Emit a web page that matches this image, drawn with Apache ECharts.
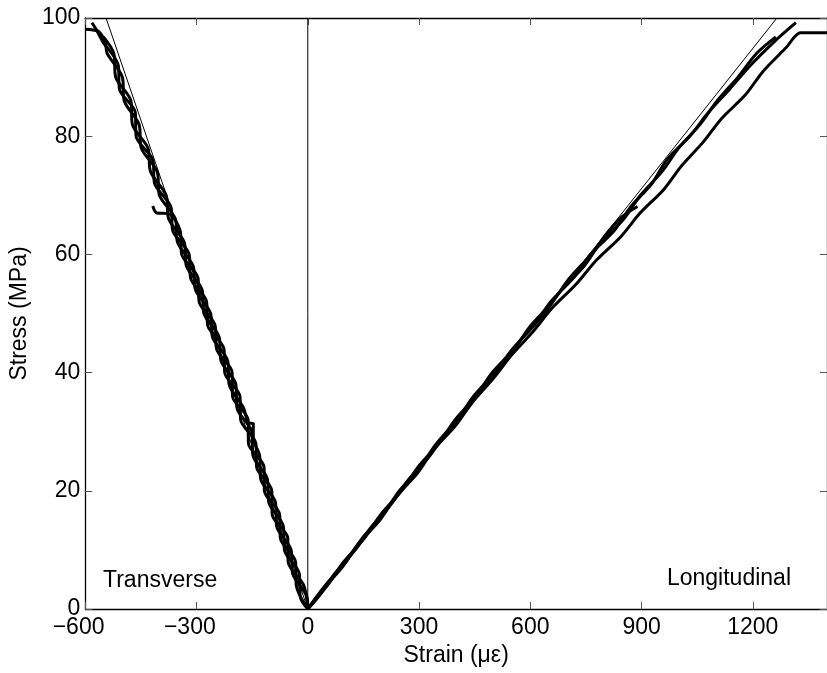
<!DOCTYPE html>
<html>
<head>
<meta charset="utf-8">
<script src="https://cdn.jsdelivr.net/npm/echarts@6/dist/echarts.min.js"></script>
<style>html,body{margin:0;padding:0;background:#fff}#c{width:827px;height:673px}</style>
</head>
<body>
<div id="c"></div>
<script>
// ---- data (strain in microstrain, stress in MPa) ----
const xTicks = [-600, -300, 0, 300, 600, 900, 1200];
const yTicks = [0, 20, 40, 60, 80, 100];
const transverse1 = [[0,0],[-31,4],[-33,8],[-74,12],[-76,16],[-117,20],[-118,24],[-160,28],[-161,32],[-203,36],[-204,40],[-246,44],[-250,48],[-293,52],[-296,56],[-340,60],[-344,64],[-376,66.9],[-407,67.0],[-418,68.2]];
const transverse2 = [[0,0],[-2,2],[-41,6],[-45,10],[-84,14],[-87,18],[-127,22],[-130,26],[-147,28.9],[-147,31.4],[-160,31.5],[-173,34],[-212,38],[-216,42],[-257,46],[-262,50],[-303,54],[-309,58],[-351,62],[-357,66],[-400,70],[-406,74],[-449,78],[-455,82],[-495,86],[-500,90],[-541,94],[-546,96],[-557,97.2],[-566,97.8],[-600,98.1]];
const transverse3 = [[0,0],[-11,4],[-53,8],[-54,12],[-96,16],[-97,20],[-138,24],[-140,28],[-181,32],[-183,36],[-224,40],[-226,44],[-270,48],[-273,52],[-316,56],[-320,60],[-364,64],[-369,68],[-413,72],[-418,76],[-463,80],[-465,84],[-508,88],[-511,92],[-553,96],[-570,98],[-582,99.2]];
const transverse4 = [[0,0],[-20,2],[-23,6],[-63,10],[-66,14],[-105,18],[-109,22],[-148,26],[-151,30],[-191,34],[-194,38],[-234,42],[-239,46],[-280,50],[-285,54],[-327,58],[-333,62],[-375,66],[-382,70],[-424,74],[-431,78],[-473,82],[-477,86],[-518,90],[-523,94],[-551,96.8]];
const longitudinal1 = [[0,0],[53,4],[97,8],[153,12],[197,16],[253,20],[297,24],[353,28],[397,32],[453,36],[497,40],[556,44],[602,48],[660,52],[706,56],[764,60],[812,64],[850,66.5],[889,68.1]];
const longitudinal2 = [[0,0],[47,4],[103,8],[147,12],[203,16],[247,20],[303,24],[347,28],[403,32],[447,36],[505,40],[552,44],[610,48],[655,52],[716,56],[762,60],[826,64],[870,68],[928,72],[968,76],[1030,80],[1080,84],[1138,88],[1194,92],[1258,96],[1316,99.2]];
const longitudinal3 = [[0,0],[28,2],[73,6],[128,10],[173,14],[228,18],[273,22],[330,26],[375,30],[432,34],[478,38],[535,42],[580,46],[638,50],[684,54],[745,58],[790,62],[852,66],[897,70],[955,74],[1000,78],[1058,82],[1104,86],[1160,90],[1210,94],[1262,96.8]];
const longitudinal4 = [[0,0],[36,3],[92,7],[136,11],[194,15],[238,19],[296,23],[340,27],[398,31],[444,35],[500,39],[550,43],[608,47],[660,51],[724,55],[778,59],[844,63],[896,67],[960,71],[1008,75],[1066,79],[1116,83],[1180,87],[1228,91],[1290,95],[1329,97.5],[1400,97.5]];
const fitTransverse = [[0,0],[-544,100]];
const fitLongitudinal = [[0,0],[1265,100]];
const zeroLine = [[0,0],[0,100]];

const FONT = 'Liberation Sans, Arial, sans-serif';
const chart = echarts.init(document.getElementById('c'), null, {renderer: 'canvas'});

function thick(d){ return {type:'line', data:d, showSymbol:false, symbol:'none', smooth:0.3, lineStyle:{color:'#000', width:3}, z:3, animation:false}; }
function thin(d){ return {type:'line', data:d, showSymbol:false, symbol:'none', lineStyle:{color:'#000', width:1}, z:2, animation:false}; }

const tickStyle = {show:true, inside:true, length:7, lineStyle:{color:'#555', width:1}};
const lineStyle = {show:true, onZero:false, lineStyle:{color:'#000', width:1.3}};

chart.setOption({
  animation:false,
  backgroundColor:'#fff',
  grid:{left:83, top:18, width:750, height:591, containLabel:false},
  xAxis:[{
    type:'value', min:-600, max:1400, interval:300, position:'bottom',
    axisLine:lineStyle, axisTick:tickStyle, splitLine:{show:false},
    axisLabel:{show:true, showMaxLabel:false, margin:7, fontSize:23, fontFamily:FONT, color:'#000',
      formatter:function(v){ if(xTicks.indexOf(v)<0) return ''; return v<0 ? '\u2212'+Math.abs(v)+'{p|\u2212}' : String(v); },
      rich:{p:{color:'rgba(0,0,0,0)', fontSize:23, fontFamily:FONT}}},
    name:'Strain (\u03bc\u03b5)', nameLocation:'middle', nameGap:32,
    nameTextStyle:{fontSize:23, fontFamily:FONT, color:'#000'}
  },{
    type:'value', min:-600, max:1400, interval:300, position:'top',
    axisLine:lineStyle, axisTick:tickStyle, axisLabel:{show:false}, splitLine:{show:false}
  }],
  yAxis:[{
    type:'value', min:0, max:100, interval:20, position:'left',
    axisLine:lineStyle, axisTick:tickStyle, splitLine:{show:false},
    axisLabel:{margin:5, fontSize:23, fontFamily:FONT, color:'#000'},
    name:'Stress (MPa)', nameLocation:'middle', nameGap:41,
    nameTextStyle:{fontSize:23, fontFamily:FONT, color:'#000'}
  },{
    type:'value', min:0, max:100, interval:20, position:'right',
    axisLine:lineStyle, axisTick:tickStyle, axisLabel:{show:false}, splitLine:{show:false}
  }],
  graphic:[
    {type:'text', left:103, top:569, style:{text:'Transverse', fontSize:23, fontFamily:FONT, fill:'#000'}},
    {type:'text', right:36, top:567, style:{text:'Longitudinal', fontSize:23, fontFamily:FONT, fill:'#000'}}
  ],
  series:[
    thin(zeroLine), thin(fitTransverse), thin(fitLongitudinal),
    thick(transverse1), thick(transverse2), thick(transverse3), thick(transverse4),
    thick(longitudinal1), thick(longitudinal2), thick(longitudinal3), thick(longitudinal4)
  ]
});
</script>
</body>
</html>
